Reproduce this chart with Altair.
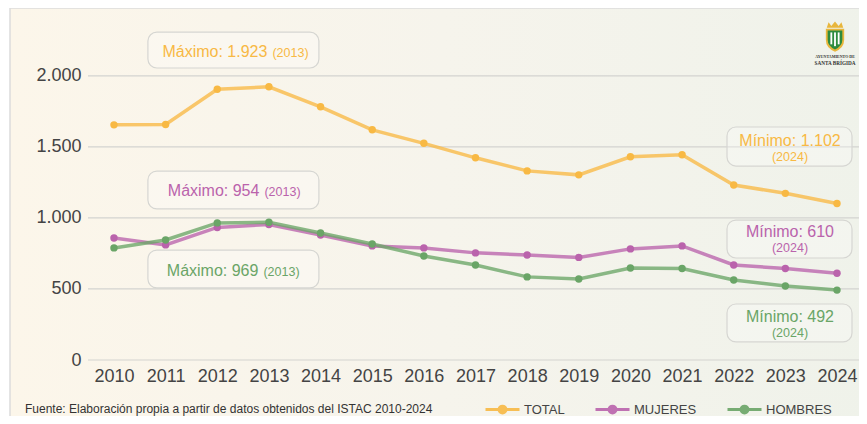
import altair as alt
import pandas as pd
import base64

# ---------------- data ----------------
years = list(range(2010, 2025))
total = [1655, 1658, 1905, 1923, 1782, 1620, 1525, 1423, 1331, 1303, 1430, 1444, 1232, 1173, 1102]
mujeres = [859, 810, 933, 954, 880, 803, 789, 754, 739, 722, 782, 803, 669, 644, 610]
hombres = [789, 845, 965, 969, 894, 817, 732, 669, 585, 570, 648, 644, 563, 521, 492]
series_names = ["TOTAL", "MUJERES", "HOMBRES"]
series_colors = ["#f8b944", "#ba63ac", "#6aa567"]
y_ticks = [0, 500, 1000, 1500, 2000]
source_text = "Fuente: Elaboración propia a partir de datos obtenidos del ISTAC 2010-2024"

# ---------------- layout ----------------
FONT = "Liberation Sans"
W, H = 771, 341
X_DOMAIN = [2009.497, 2024.426]
Y_DOMAIN = [0, 2400]
PX_YEAR = W / (X_DOMAIN[1] - X_DOMAIN[0])
PX_UNIT = H / (Y_DOMAIN[1] - Y_DOMAIN[0])


def fmt(v):
    return f"{v:,}".replace(",", ".")


rows = []
for name, vals in zip(series_names, [total, mujeres, hombres]):
    for y, v in zip(years, vals):
        rows.append({"year": y, "value": v, "serie": name})
df = pd.DataFrame(rows)

color_scale = alt.Scale(domain=series_names, range=series_colors)
x_scale = alt.Scale(domain=X_DOMAIN, nice=False, zero=False)
y_scale = alt.Scale(domain=Y_DOMAIN, nice=False)

# annotation layout (pixel offsets relative to the annotated point)
ann_layout = {
    ("TOTAL", "max"): dict(box=(-121, 50, 2308, 2055), split=0.5, base=2135),
    ("MUJERES", "max"): dict(box=(-121, 50, 1330, 1063), split=-7.5, base=1154),
    ("HOMBRES", "max"): dict(box=(-121, 50, 774, 507), split=-8.5, base=593),
    ("TOTAL", "min"): dict(box=(-110, 15, 1640, 1365), center=-47, base=(1508, 1401)),
    ("MUJERES", "min"): dict(box=(-110, 15, 985, 718), center=-47, base=(864, 762)),
    ("HOMBRES", "min"): dict(box=(-110, 15, 394, 127), center=-47, base=(270, 164)),
}

boxes, texts = [], []
for name, col, vals in zip(series_names, series_colors, [total, mujeres, hombres]):
    for kind in ["max", "min"]:
        v = max(vals) if kind == "max" else min(vals)
        yr = years[vals.index(v)]
        lay = ann_layout[(name, kind)]
        b = lay["box"]
        boxes.append({"x1": yr + b[0] / PX_YEAR, "x2": yr + b[1] / PX_YEAR,
                      "y1": b[2], "y2": b[3]})
        if kind == "max":
            xs = yr + lay["split"] / PX_YEAR
            texts.append({"x": xs, "y": lay["base"], "t": f"Máximo: {fmt(v)}", "c": col,
                          "size": 16, "align": "right", "dx": -2})
            texts.append({"x": xs, "y": lay["base"], "t": f"({yr})", "c": col,
                          "size": 12.5, "align": "left", "dx": 3})
        else:
            xc = yr + lay["center"] / PX_YEAR
            texts.append({"x": xc, "y": lay["base"][0], "t": f"Mínimo: {fmt(v)}", "c": col,
                          "size": 16, "align": "center", "dx": 0})
            texts.append({"x": xc, "y": lay["base"][1], "t": f"({yr})", "c": col,
                          "size": 12.5, "align": "center", "dx": 0})
boxes_df = pd.DataFrame(boxes)
texts_df = pd.DataFrame(texts)

one = pd.DataFrame({"a": [0]})

# background card
background = alt.Chart(one).mark_rect(
    fill=alt.LinearGradient(
        gradient="linear",
        stops=[alt.GradientStop(color="#fcf6ea", offset=0),
               alt.GradientStop(color="#f6f4ec", offset=0.5),
               alt.GradientStop(color="#eff2ea", offset=1)],
        x1=0, x2=1, y1=0, y2=0),
    stroke="#dcdcdc", strokeWidth=1.5,
).encode(x=alt.value(-78), x2=alt.value(W + 20), y=alt.value(-11), y2=alt.value(420))

grid = alt.Chart(pd.DataFrame({"v": y_ticks})).mark_rule(
    color="#d3d3d0", strokeWidth=1.2
).encode(y=alt.Y("v:Q", scale=y_scale), x=alt.value(0), x2=alt.value(W + 10))

base = alt.Chart(df).encode(
    x=alt.X("year:Q", scale=x_scale, title=None,
            axis=alt.Axis(values=years, format="d", labelFontSize=18, labelColor="#444444",
                          labelFont=FONT, domain=False, ticks=False, grid=False,
                          labelPadding=7, labelFlush=False, labelOverlap=False, zindex=1)),
    y=alt.Y("value:Q", scale=y_scale, title=None,
            axis=alt.Axis(values=y_ticks, labelFontSize=18, labelColor="#444444",
                          labelFont=FONT, domain=False, ticks=False, grid=False,
                          labelPadding=7,
                          labelExpr="replace(format(datum.value, ','), ',', '.')", zindex=1)),
)

legend = alt.Legend(
    title=None, orient="none", legendX=396, legendY=372, direction="horizontal",
    symbolType="M-1,0L1,0M-0.2,0A0.2,0.2,0,1,0,0.2,0A0.2,0.2,0,1,0,-0.2,0Z",
    symbolSize=1156, symbolStrokeWidth=3, labelFontSize=13, labelFont=FONT,
    labelColor="#444444", columnPadding=24, labelOffset=3, padding=0,
    symbolOpacity=0.9,
)

lines = base.mark_line(strokeWidth=3.5, opacity=0.78).encode(
    color=alt.Color("serie:N", scale=color_scale, legend=legend, sort=series_names),
    detail="serie:N",
)
points = base.mark_point(filled=True, size=55, opacity=1).encode(
    color=alt.Color("serie:N", scale=color_scale, legend=legend, sort=series_names),
)

ann_boxes = alt.Chart(boxes_df).mark_rect(
    cornerRadius=9, fill="#ffffff", fillOpacity=0.25, stroke="#d6d6d2", strokeWidth=1.2
).encode(x=alt.X("x1:Q", scale=x_scale), x2="x2:Q",
         y=alt.Y("y1:Q", scale=y_scale), y2="y2:Q")

ann_layers = []
for _, r in texts_df.iterrows():
    ann_layers.append(
        alt.Chart(pd.DataFrame([r])).mark_text(
            font=FONT, fontSize=float(r["size"]), color=r["c"], align=r["align"],
            baseline="alphabetic", dx=float(r["dx"])
        ).encode(x=alt.X("x:Q", scale=x_scale), y=alt.Y("y:Q", scale=y_scale), text="t:N")
    )

source = alt.Chart(one).mark_text(
    text=source_text, font=FONT, fontSize=12, color="#333333", align="left",
    baseline="alphabetic"
).encode(x=alt.value(-63), y=alt.value(394))

# logo
svg = """<svg xmlns='http://www.w3.org/2000/svg' width='22' height='32' viewBox='0 0 24 34'>
<path d='M3 7 L5 1 L8 5 L12 0 L16 5 L19 1 L21 7 Z' fill='#e8b63c'/>
<path d='M2 8 H22 V20 Q22 29 12 33 Q2 29 2 20 Z' fill='#e8b63c'/>
<path d='M4 10 H20 V20 Q20 27 12 30.5 Q4 27 4 20 Z' fill='#2e8b3e'/>
<rect x='7' y='12' width='2' height='13' fill='#ffffff'/>
<rect x='11' y='12' width='2' height='15' fill='#ffffff'/>
<rect x='15' y='12' width='2' height='13' fill='#ffffff'/>
</svg>"""
svg_uri = "data:image/svg+xml;base64," + base64.b64encode(svg.encode()).decode()
logo = alt.Chart(one).mark_image(url=svg_uri, width=22, height=32, align="left",
                                 baseline="top").encode(
    x=alt.value(736), y=alt.value(2))
logo_t1 = alt.Chart(one).mark_text(text="AYUNTAMIENTO DE", font="Liberation Serif",
                                   fontSize=4, fontWeight="bold", color="#333333",
                                   align="center").encode(x=alt.value(747), y=alt.value(38))
logo_t2 = alt.Chart(one).mark_text(text="SANTA BRÍGIDA", font="Liberation Serif",
                                   fontSize=5.2, fontWeight="bold", color="#333333",
                                   align="center").encode(x=alt.value(747), y=alt.value(44))

chart = alt.layer(
    background, grid, ann_boxes, lines, points, *ann_layers, source, logo, logo_t1, logo_t2
).properties(
    width=W, height=H,
    autosize=alt.AutoSizeParams(type="none"),
    padding={"left": 80, "top": 11, "right": 0, "bottom": 56},
    background="#ffffff",
).configure_view(stroke=None)

chart.save("out.html", embed_options={"renderer": "svg", "actions": False})
